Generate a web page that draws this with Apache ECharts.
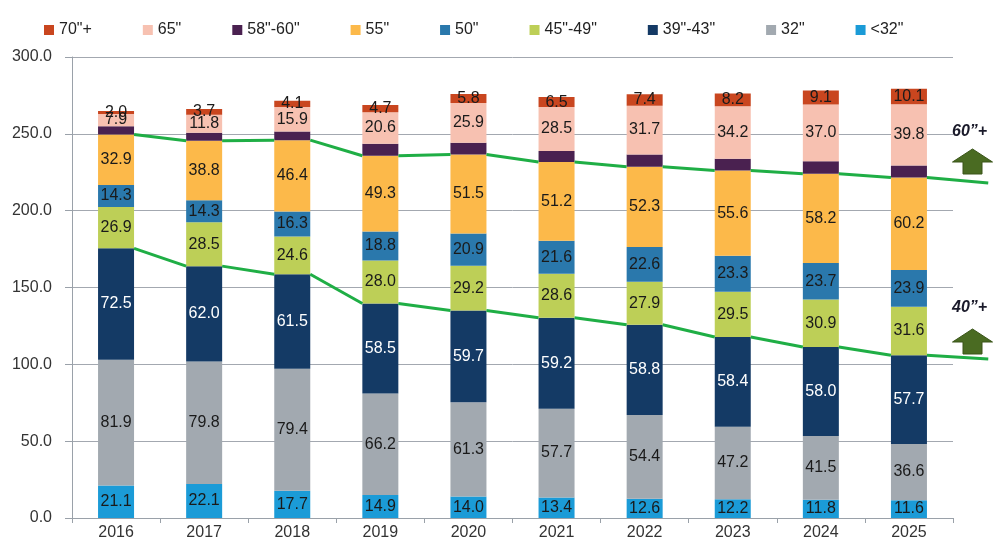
<!DOCTYPE html>
<html>
<head>
<meta charset="utf-8">
<script src="https://cdn.jsdelivr.net/npm/echarts@6/dist/echarts.min.js"></script>
<style>html,body{margin:0;padding:0;background:#fff}#c{width:996px;height:544px}</style>
</head>
<body>
<div id="c"></div>
<script>
const years = ['2016','2017','2018','2019','2020','2021','2022','2023','2024','2025'];
const yTicks = [0, 50, 100, 150, 200, 250, 300];
const s70 = [2.0, 3.7, 4.1, 4.7, 5.8, 6.5, 7.4, 8.2, 9.1, 10.1];
const s65 = [7.9, 11.8, 15.9, 20.6, 25.9, 28.5, 31.7, 34.2, 37.0, 39.8];
const s58 = [5.4, 5.2, 5.6, 7.8, 7.6, 7.2, 8.0, 7.6, 8.0, 7.8];
const s55 = [32.9, 38.8, 46.4, 49.3, 51.5, 51.2, 52.3, 55.6, 58.2, 60.2];
const s50 = [14.3, 14.3, 16.3, 18.8, 20.9, 21.6, 22.6, 23.3, 23.7, 23.9];
const s45 = [26.9, 28.5, 24.6, 28.0, 29.2, 28.6, 27.9, 29.5, 30.9, 31.6];
const s39 = [72.5, 62.0, 61.5, 58.5, 59.7, 59.2, 58.8, 58.4, 58.0, 57.7];
const s32 = [81.9, 79.8, 79.4, 66.2, 61.3, 57.7, 54.4, 47.2, 41.5, 36.6];
const sLt32 = [21.1, 22.1, 17.7, 14.9, 14.0, 13.4, 12.6, 12.2, 11.8, 11.6];
// where the two trend lines end, right of the last bar
const trendEnd60 = 218.0;
const trendEnd40 = 103.5;

const FONT = '"Liberation Sans", Arial, sans-serif';
const BAR_W = 36;

// stacked from bottom to top
const stackDefs = [
  {name: '<32"', data: sLt32, color: '#1b9bd7', label: '#1a1a1a'},
  {name: '32"', data: s32, color: '#a2a9b0', label: '#1a1a1a'},
  {name: '39"-43"', data: s39, color: '#143a65', label: '#ffffff'},
  {name: '45"-49"', data: s45, color: '#bdcf57', label: '#1a1a1a'},
  {name: '50"', data: s50, color: '#2a78ac', label: '#1a1a1a'},
  {name: '55"', data: s55, color: '#fcb94a', label: '#1a1a1a'},
  {name: '58"-60"', data: s58, color: '#4a2150', label: null},
  {name: '65"', data: s65, color: '#f7c1b1', label: '#1a1a1a'},
  {name: '70"+', data: s70, color: '#c9461f', label: '#1a1a1a'}
];

function cumTop(upto) {
  return years.map((_, i) => {
    let s = 0;
    for (let k = 0; k <= upto; k++) s += stackDefs[k].data[i];
    return +s.toFixed(2);
  });
}
const top39 = cumTop(2);
const top55 = cumTop(5);

function lineData(tops, endVal) {
  return tops.map((t, i) => [i, t, i < tops.length - 1 ? tops[i + 1] : endVal, i === tops.length - 1 ? 1 : 0]);
}

const series = stackDefs.map(d => ({
  name: d.name,
  type: 'bar',
  stack: 'total',
  barWidth: BAR_W,
  data: d.data,
  itemStyle: {color: d.color},
  label: d.label ? {
    show: true,
    position: 'inside',
    color: d.label,
    fontFamily: FONT,
    fontSize: 16,
    formatter: p => p.value.toFixed(1)
  } : {show: false},
  emphasis: {disabled: true}
}));

function seriesLine(data) {
  return {
    type: 'custom',
    z: 5,
    clip: false,
    silent: true,
    encode: {x: 0, y: 1},
    data: data,
    renderItem: function (params, api) {
      const i = api.value(0);
      const band = api.size([1, 0])[0];
      const p1 = api.coord([i, api.value(1)]);
      const p2y = api.coord([i, api.value(2)])[1];
      const last = api.value(3) === 1;
      const x1 = p1[0] + BAR_W / 2;
      const x2 = last ? p1[0] + band * 0.9 : p1[0] + band - BAR_W / 2;
      return {
        type: 'line',
        shape: {x1: x1, y1: p1[1], x2: x2, y2: p2y},
        style: {stroke: '#1fae45', lineWidth: 3}
      };
    }
  };
}
series.push(seriesLine(lineData(top55, trendEnd60)));
series.push(seriesLine(lineData(top39, trendEnd40)));

function arrow(x, tipY) {
  return {
    type: 'polygon',
    shape: {points: [
      [x, tipY], [x + 20, tipY + 13], [x + 9.5, tipY + 13], [x + 9.5, tipY + 25],
      [x - 9.5, tipY + 25], [x - 9.5, tipY + 13], [x - 20, tipY + 13]
    ]},
    style: {fill: '#4a6b22', stroke: '#3a5519', lineWidth: 1}
  };
}

const chart = echarts.init(document.getElementById('c'), null, {renderer: 'canvas'});
chart.setOption({
  animation: false,
  backgroundColor: '#ffffff',
  legend: {
    data: ['70"+', '65"', '58"-60"', '55"', '50"', '45"-49"', '39"-43"', '32"', '<32"'],
    left: 39,
    top: 17,
    icon: 'rect',
    itemWidth: 10,
    itemHeight: 10,
    itemGap: 51,
    textStyle: {fontFamily: FONT, fontSize: 16, color: '#222'},
    selectedMode: false
  },
  grid: {left: 72, right: 43, top: 57, bottom: 26, containLabel: false},
  xAxis: {
    type: 'category',
    data: years,
    axisLine: {lineStyle: {color: '#9aa1a9', width: 1}},
    axisTick: {show: true, length: 5, lineStyle: {color: '#9aa1a9'}},
    axisLabel: {fontFamily: FONT, fontSize: 16, color: '#333', margin: 7}
  },
  yAxis: {
    type: 'value',
    min: yTicks[0],
    max: yTicks[yTicks.length - 1],
    interval: 50,
    axisLine: {show: true, lineStyle: {color: '#9aa1a9', width: 1}},
    axisTick: {show: true, length: 7, lineStyle: {color: '#9aa1a9'}},
    splitLine: {lineStyle: {color: '#a3a8b0', width: 1}},
    axisLabel: {fontFamily: FONT, fontSize: 16, color: '#333', margin: 20, formatter: v => v.toFixed(1)}
  },
  series: series,
  graphic: [
    {type: 'text', left: 952, top: 124, style: {text: '60\u201D+', font: 'italic bold 16px ' + FONT, fill: '#1a1a2a'}},
    {type: 'text', left: 952, top: 300, style: {text: '40\u201D+', font: 'italic bold 16px ' + FONT, fill: '#1a1a2a'}},
    arrow(972.5, 149),
    arrow(972.5, 329)
  ]
});
</script>
</body>
</html>
